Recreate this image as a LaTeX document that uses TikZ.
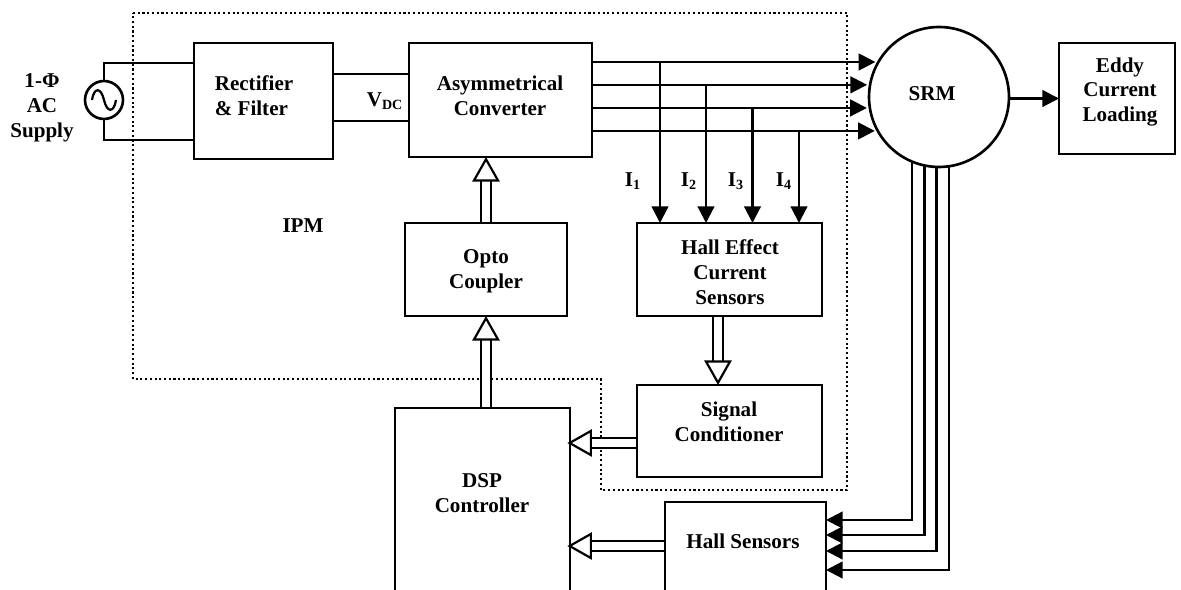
\documentclass[tikz,border=0pt]{standalone}
\usepackage{fontspec}
\setmainfont{Liberation Serif}
\usetikzlibrary{arrows.meta,calc}
\tikzset{
	blockbox/.style={draw, rectangle, line width=1.5pt, inner sep=0pt, outer sep=0pt, align=center},
	blocktext/.style={inner sep=0pt, align=center},
	wire/.style={line width=1.25pt},
	sigarrow/.style={line width=1.25pt, -{Triangle[width=9.5pt, length=9.5pt]}},
	fatarrow/.style={line width=1.25pt, double, double distance=4.8pt, shorten <=0.7pt, -{Triangle[line width=1.25pt, open, fill=white, width=15.5pt, length=14pt]}},
}
\begin{document}
\begin{tikzpicture}[x=0.02cm, y=-0.02cm, font=\fontsize{12}{14.2}\selectfont\bfseries]
	\useasboundingbox (0, 0) rectangle (1181, 590);
	\clip (0, 0) rectangle (1181, 590);

	% IPM boundary
	\draw[line width=1.5pt, dash pattern=on 1.2pt off 1.5pt] (133, 13) -- (847, 13) -- (847, 490) -- (601, 490) -- (601, 379) -- (133, 379) -- cycle;
	\node[blocktext] (ipm) at (303, 226) {IPM};

	% blocks
	\node[blockbox, minimum width=2.78cm, minimum height=2.32cm] (rect) at (263.5, 101) {};
	\node[blocktext, align=left] (recttext) at (254, 96) {Rectifier\\\& Filter};
	\node[blockbox, minimum width=3.66cm, minimum height=2.28cm] (conv) at (500.5, 100) {};
	\node[blocktext] (convtext) at (500, 95.5) {Asymmetrical\\Converter};
	\node[blockbox, minimum width=3.24cm, minimum height=1.86cm] (opto) at (486, 269.5) {};
	\node[blocktext] (optotext) at (486, 271) {Opto\\Coupler};
	\node[blockbox, minimum width=3.7cm, minimum height=1.86cm] (hall) at (729.5, 269.5) {};
	\node[blocktext] (halltext) at (730, 272) {Hall Effect\\Current\\Sensors};
	\node[blockbox, minimum width=3.7cm, minimum height=1.84cm] (cond) at (729.5, 431) {};
	\node[blocktext] (condtext) at (729, 421.5) {Signal\\Conditioner};
	\node[blockbox, minimum width=3.5cm, minimum height=5cm] (dsp) at (482.5, 533) {};
	\node[blocktext] (dsptext) at (482, 493) {DSP\\Controller};
	\node[blockbox, minimum width=3.22cm, minimum height=3cm] (sens) at (745.5, 577) {};
	\node[blocktext] (senstext) at (743, 541) {Hall Sensors};
	\node[blockbox, minimum width=2.32cm, minimum height=2.22cm] (eddy) at (1117, 98.5) {};
	\node[blocktext] (eddytext) at (1120, 92) {Eddy\\Current\\Loading};
	\node[blockbox, circle, minimum size=2.8cm] (srm) at (939, 97) {};
	\node[blocktext] (srmtext) at (932, 94) {SRM};

	% supply
	\node[blockbox, circle, minimum size=0.76cm] (ac) at (104, 100) {};
	\draw[wire] ($(ac.center)+(-12, 0)$) .. controls ($(ac.center)+(-10, -13)$) and ($(ac.center)+(-3, -13)$) .. (ac.center) .. controls ($(ac.center)+(3, 13)$) and ($(ac.center)+(10, 13)$) .. ($(ac.center)+(12, 0)$);
	\node[blocktext] (supply) at (42, 108) {1-Φ\\AC\\Supply};
	\draw[wire] (ac.north) |- (rect.west |- 0, 63);
	\draw[wire] (ac.south) |- (rect.west |- 0, 140);

	% dc link
	\draw[wire] (rect.east |- 0, 74) -- (conv.west |- 0, 74);
	\draw[wire] (rect.east |- 0, 121) -- (conv.west |- 0, 121);
	\node[blocktext] (vdc) at (385, 101) {V\textsubscript{DC}};

	% phases to motor
	\draw[sigarrow, shorten >=1.7pt] (conv.east |- srm.150) -- (srm.150);
	\draw[sigarrow, shorten >=1.7pt] (conv.east |- srm.170) -- (srm.170);
	\draw[sigarrow, shorten >=1.7pt] (conv.east |- srm.189) -- (srm.189);
	\draw[sigarrow, shorten >=1.7pt] (conv.east |- srm.209) -- (srm.209);
	\draw[sigarrow] (srm.east |- eddy.west) -- (eddy.west);

	% current taps
	\draw[sigarrow] (660, 0 |- srm.150) -- (660, 0 |- hall.north);
	\draw[sigarrow] (706, 0 |- srm.170) -- (706, 0 |- hall.north);
	\draw[sigarrow] (752.5, 0 |- srm.189) -- (752.5, 0 |- hall.north);
	\draw[sigarrow] (799, 0 |- srm.209) -- (799, 0 |- hall.north);
	\node[blocktext] (i1) at (633, 181) {I\textsubscript{1}};
	\node[blocktext] (i2) at (689, 181) {I\textsubscript{2}};
	\node[blocktext] (i3) at (736, 181) {I\textsubscript{3}};
	\node[blocktext] (i4) at (784, 181) {I\textsubscript{4}};

	% position feedback
	\draw[sigarrow] (srm.247) |- (sens.east |- 0, 520);
	\draw[sigarrow] (srm.258) |- (sens.east |- 0, 535);
	\draw[sigarrow] (srm.268) |- (sens.east |- 0, 551);
	\draw[sigarrow] (srm.278) |- (sens.east |- 0, 570);

	% control path
	\draw[fatarrow] (opto.north) -- (opto.north |- conv.south);
	\draw[fatarrow] (opto.south |- dsp.north) -- (opto.south);
	\draw[fatarrow] (718, 0 |- hall.south) -- (718, 0 |- cond.north);
	\draw[fatarrow, shorten >=-1.5pt] (cond.west |- 0, 443) -- (dsp.east |- 0, 443);
	\draw[fatarrow, shorten >=-1.5pt] (sens.west |- 0, 546) -- (dsp.east |- 0, 546);
\end{tikzpicture}
\end{document}
